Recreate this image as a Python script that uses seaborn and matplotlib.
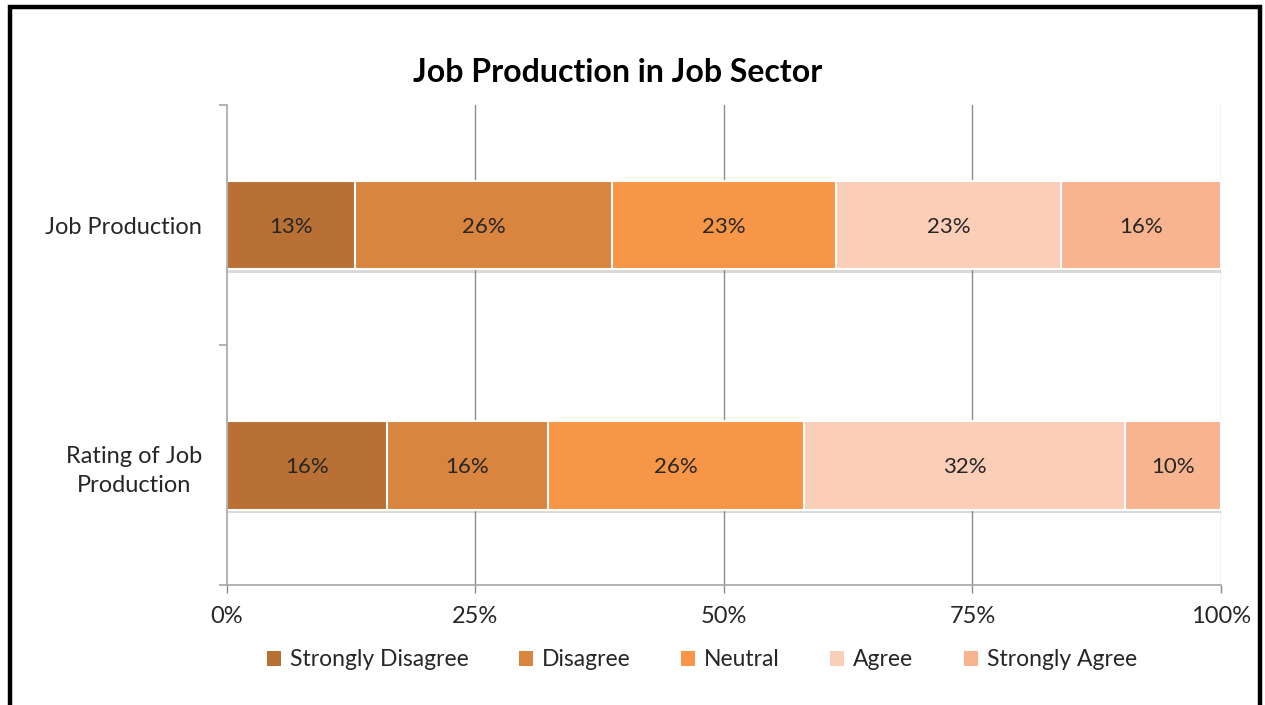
import numpy as np
import pandas as pd
import matplotlib
matplotlib.use("Agg")
import matplotlib.pyplot as plt
import matplotlib.patheffects as pe
from matplotlib.patches import Rectangle, Patch
import seaborn as sns

# Survey responses (counts per answer) for each question
questions = ["Job Production", "Rating of Job\nProduction"]
levels = ["Strongly Disagree", "Disagree", "Neutral", "Agree", "Strongly Agree"]
job_production = [4, 8, 7, 7, 5]
rating_of_job_production = [5, 5, 8, 10, 3]
colors = ["#B87034", "#D9843F", "#F79646", "#FBCEB8", "#F8B48E"]

counts = np.array([job_production, rating_of_job_production], dtype=float)
shares = counts / counts.sum(axis=1, keepdims=True) * 100
cum = np.cumsum(shares, axis=1)

sns.set_theme(style="white")
plt.rcParams["font.family"] = ["Lato", "DejaVu Sans"]

fig = plt.figure(figsize=(12.65, 7.05), dpi=100)
ax = fig.add_axes([0.1794, 0.170, 0.7858, 0.681])

grid_col = "#8C8C8C"
axis_col = "#A6A6A6"
for x in (25, 50, 75, 100):
    ax.axvline(x, color=grid_col if x < 100 else "#BFBFBF", lw=1.0, zorder=0)

# Stacked bars: draw cumulative totals from the widest down so each
# shorter bar sits on top of the previous one.
for j in range(len(levels) - 1, -1, -1):
    df = pd.DataFrame({"question": questions, "value": cum[:, j]})
    sns.barplot(data=df, x="value", y="question", orient="h", color=colors[j],
                saturation=1, width=0.37, edgecolor="white", linewidth=1.5,
                ax=ax, zorder=2)

# soft shadow under the full-width bars
for patch in ax.patches[:len(questions)]:
    patch.set_path_effects([pe.SimplePatchShadow(offset=(1, -2.5), shadow_rgbFace="#7F7F7F", alpha=0.3),
                            pe.Normal()])

for i in range(len(questions)):
    for j in range(len(levels)):
        left = cum[i, j] - shares[i, j]
        ax.text(left + shares[i, j] / 2, i, f"{shares[i, j]:.0f}%", ha="center", va="center_baseline",
                fontsize=16, color="#262626", zorder=5)

ax.set_xlim(0, 100)
ax.set_ylim(1.5, -0.5)
ax.set_xticks([0, 25, 50, 75, 100])
ax.set_xticklabels(["0%", "25%", "50%", "75%", "100%"])
ax.set_xlabel("")
ax.set_ylabel("")
ax.set_yticks([0, 1])
ax.set_yticklabels(questions, multialignment="center", linespacing=1.45)
ax.set_yticks([-0.5, 0.5, 1.5], minor=True)

for s in ("top", "right"):
    ax.spines[s].set_visible(False)
for s in ("left", "bottom"):
    ax.spines[s].set_color(axis_col)
    ax.spines[s].set_linewidth(1.2)

ax.tick_params(axis="x", which="major", length=6, width=1.0, color=grid_col, direction="out",
               pad=9, labelsize=17, labelcolor="#262626", bottom=True)
ax.tick_params(axis="y", which="major", length=0, pad=18, labelsize=17, labelcolor="#262626", left=True)
ax.tick_params(axis="y", which="minor", length=6, width=1.2, color=axis_col, direction="out", left=True)

fig.text(0.4885, 0.897, "Job Production in Job Sector", ha="center", va="center",
         fontsize=23, fontweight="bold", color="black")

handles = [Patch(facecolor=c, edgecolor="none") for c in colors]
fig.legend(handles, levels, loc="center", bbox_to_anchor=(0.555, 0.064), ncol=5, frameon=False,
           fontsize=16.5, handlelength=0.6, handleheight=0.6, handletextpad=0.4, columnspacing=2.2,
           labelcolor="#262626")

# outer frame around the chart area
fig.patches.append(Rectangle((10 / 1265, -0.05), 1250 / 1265, 1.05 - 7 / 705, transform=fig.transFigure,
                             fill=False, edgecolor="black", linewidth=3.2, zorder=10))

fig.savefig("out.png", dpi=100, facecolor="white")
